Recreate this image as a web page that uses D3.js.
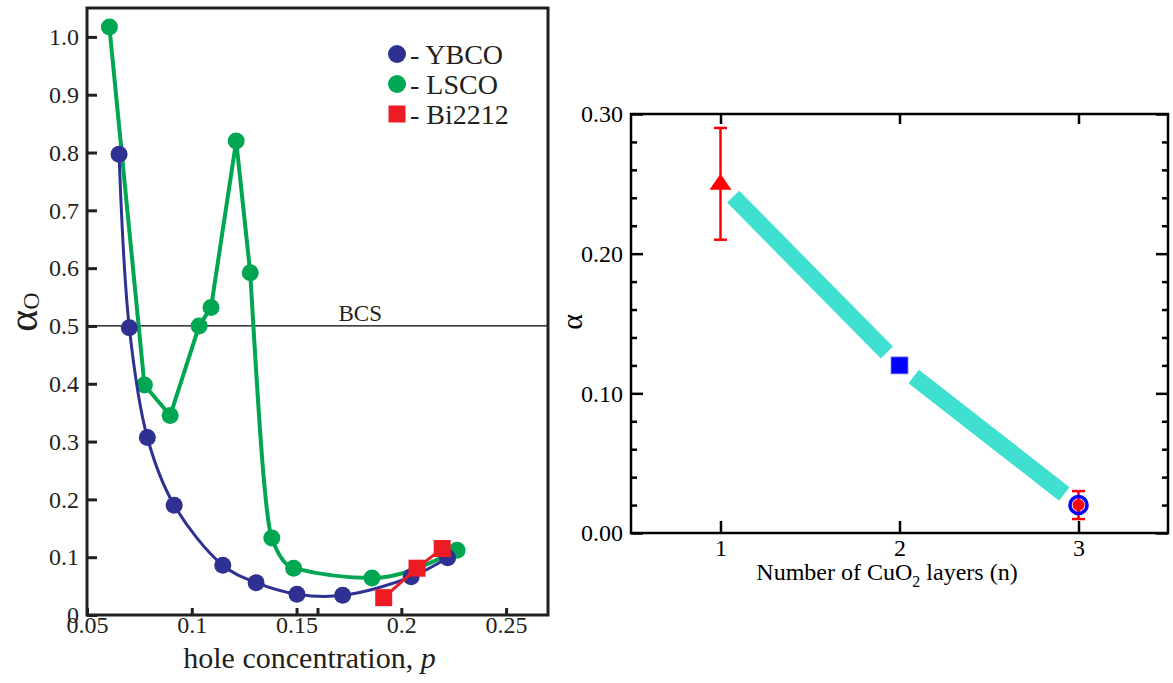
<!DOCTYPE html>
<html>
<head>
<meta charset="utf-8">
<script src="https://cdn.jsdelivr.net/npm/d3@7"></script>
<style>
  html, body { margin: 0; padding: 0; background: #fff; }
  svg { display: block; }
  svg text { font-family: "Liberation Serif", "Times New Roman", serif; }
</style>
</head>
<body>
<svg id="chart" width="1173" height="683"></svg>
<script>
// ---- Left panel: isotope exponent vs hole concentration ----
const ybcoP     = [0.0653, 0.0702, 0.0788, 0.0916, 0.1148, 0.1307, 0.1502, 0.1720, 0.2047, 0.2221];
const ybcoAlpha = [0.797, 0.497, 0.307, 0.190, 0.086, 0.056, 0.036, 0.034, 0.066, 0.099];

const lscoP     = [0.0607, 0.0774, 0.0897, 0.1035, 0.1092, 0.1212, 0.1279, 0.1382, 0.1486, 0.1860, 0.2266];
const lscoAlpha = [1.017, 0.398, 0.345, 0.500, 0.532, 0.820, 0.592, 0.133, 0.081, 0.064, 0.112];

const biP       = [0.1916, 0.2075, 0.2195];
const biAlpha   = [0.030, 0.081, 0.115];

const bcsLevel  = 0.5;

const leftXTicks = [0.05, 0.1, 0.15, 0.16, 0.2, 0.25];
const leftXTickLabels = ["0.05", "0.1", "0.15", "", "0.2", "0.25"];
const leftYTicks = [0, 0.1, 0.2, 0.3, 0.4, 0.5, 0.6, 0.7, 0.8, 0.9, 1.0];
const leftYTickLabels = ["0", "0.1", "0.2", "0.3", "0.4", "0.5", "0.6", "0.7", "0.8", "0.9", "1.0"];

const legendNames = ["YBCO", "LSCO", "Bi2212"];

// ---- Right panel: exponent vs number of CuO2 layers ----
const layersN      = [1, 2, 3];
const layersAlpha  = [0.25, 0.12, 0.02];
const layersErrLo  = [0.21, null, 0.01];
const layersErrHi  = [0.29, null, 0.03];

const rightYMajor  = [0, 0.1, 0.2, 0.3];
const rightYMinor  = [0.02, 0.04, 0.06, 0.08, 0.12, 0.14, 0.16, 0.18, 0.22, 0.24, 0.26, 0.28];
const rightXTicks  = [1, 2, 3];

const BLUE = "#2e3192", GREEN = "#00a651", RED = "#ed1c24";
const INK = "#231f20";
const SERIF = '"Liberation Serif", "Times New Roman", serif';

const svg = d3.select("#chart");

// ================= LEFT PANEL =================
const L = { x0: 87, x1: 548, y0: 8, y1: 615 };
const xL = d3.scaleLinear().domain([0.05, 0.27]).range([L.x0, L.x1]);
const yL = d3.scaleLinear().domain([0, 1.05]).range([L.y1, L.y0]);

const left = svg.append("g");

// BCS reference line
left.append("line")
  .attr("x1", L.x0).attr("x2", L.x1)
  .attr("y1", yL(bcsLevel)).attr("y2", yL(bcsLevel))
  .attr("stroke", "#000").attr("stroke-width", 1.2);
left.append("text")
  .attr("x", xL(0.1804)).attr("y", yL(bcsLevel) - 5)
  .attr("text-anchor", "middle").attr("font-size", 23).attr("fill", INK)
  .text("BCS");

const styleLeftAxis = g => {
  g.select(".domain").remove();
  g.selectAll("line").attr("stroke", INK).attr("stroke-width", 3);
  g.selectAll("text").style("font-family", SERIF).style("font-size", "24px").attr("fill", INK);
};

// axes (ticks point inward)
left.append("g").attr("transform", `translate(${L.x0},0)`)
  .call(d3.axisLeft(yL).tickValues(leftYTicks)
    .tickFormat((d, i) => leftYTickLabels[i]).tickSize(-10).tickPadding(8))
  .call(styleLeftAxis);

left.append("g").attr("transform", `translate(0,${L.y1})`)
  .call(d3.axisBottom(xL).tickValues(leftXTicks)
    .tickFormat((d, i) => leftXTickLabels[i]).tickSize(-7).tickPadding(1))
  .call(styleLeftAxis);

// frame
left.append("rect")
  .attr("x", L.x0).attr("y", L.y0)
  .attr("width", L.x1 - L.x0).attr("height", L.y1 - L.y0)
  .attr("fill", "none").attr("stroke", INK).attr("stroke-width", 3);

// LSCO: straight segments through the underdoped region, smooth curve beyond
const lsco = lscoP.map((p, i) => [p, lscoAlpha[i]]);
const lineLin = d3.line().x(d => xL(d[0])).y(d => yL(d[1]));
const lineSmooth = d3.line().x(d => xL(d[0])).y(d => yL(d[1])).curve(d3.curveMonotoneX);
left.append("path").attr("d", lineLin(lsco.slice(0, 7)))
  .attr("fill", "none").attr("stroke", GREEN).attr("stroke-width", 4).attr("stroke-linejoin", "round");
left.append("path").attr("d", lineSmooth(lsco.slice(6)))
  .attr("fill", "none").attr("stroke", GREEN).attr("stroke-width", 4);
left.append("g").selectAll("circle").data(lsco).join("circle")
  .attr("cx", d => xL(d[0])).attr("cy", d => yL(d[1])).attr("r", 8.5).attr("fill", GREEN);

// YBCO smooth curve
const ybco = ybcoP.map((p, i) => [p, ybcoAlpha[i]]);
left.append("path").attr("d", d3.line().x(d => xL(d[0])).y(d => yL(d[1])).curve(d3.curveCatmullRom.alpha(0.5))(ybco))
  .attr("fill", "none").attr("stroke", BLUE).attr("stroke-width", 3);
left.append("g").selectAll("circle").data(ybco).join("circle")
  .attr("cx", d => xL(d[0])).attr("cy", d => yL(d[1])).attr("r", 8.5).attr("fill", BLUE);

// Bi2212
const bi = biP.map((p, i) => [p, biAlpha[i]]);
left.append("path").attr("d", lineLin(bi))
  .attr("fill", "none").attr("stroke", RED).attr("stroke-width", 3);
left.append("g").selectAll("rect").data(bi).join("rect")
  .attr("x", d => xL(d[0]) - 8.5).attr("y", d => yL(d[1]) - 8.5)
  .attr("width", 17).attr("height", 17).attr("fill", RED);

// legend
const legend = left.append("g").attr("transform", "translate(397,54)");
const legColors = [BLUE, GREEN, RED];
legendNames.forEach((name, i) => {
  const gy = i * 30;
  if (i < 2) {
    legend.append("circle").attr("cx", 0).attr("cy", gy).attr("r", 9).attr("fill", legColors[i]);
  } else {
    legend.append("rect").attr("x", -8.5).attr("y", gy - 8.5).attr("width", 17).attr("height", 17).attr("fill", legColors[i]);
  }
  legend.append("text").attr("x", 13).attr("y", gy + 10)
    .attr("font-size", 28).attr("fill", INK).text("- " + name);
});

// axis titles
left.append("text")
  .attr("x", (L.x0 + L.x1) / 2 - 8).attr("y", 668)
  .attr("text-anchor", "middle").attr("font-size", 30).attr("fill", INK)
  .call(t => {
    t.append("tspan").text("hole concentration, ");
    t.append("tspan").attr("font-style", "italic").text("p");
  });
left.append("text")
  .attr("transform", "translate(37,312) rotate(-90)")
  .attr("text-anchor", "middle").attr("fill", INK)
  .call(t => {
    t.append("tspan").attr("font-size", 42).text("α");
    t.append("tspan").attr("font-size", 24).attr("dy", 2).text("O");
  });

// ================= RIGHT PANEL =================
const R = { x0: 631, x1: 1168, y0: 114, y1: 533 };
const xR = d3.scaleLinear().domain([0.5, 3.5]).range([R.x0, R.x1]);
const yR = d3.scaleLinear().domain([0, 0.3]).range([R.y1, R.y0]);

const right = svg.append("g");

const styleAxis = g => {
  g.select(".domain").remove();
  g.selectAll("line").attr("stroke", "#000").attr("stroke-width", 2.5);
  g.selectAll("text").style("font-family", SERIF).style("font-size", "24px").attr("fill", "#000");
};

right.append("g").attr("transform", `translate(${R.x0},0)`)
  .call(d3.axisLeft(yR).tickValues(rightYMajor).tickFormat(d3.format(".2f")).tickSize(-12).tickPadding(8))
  .call(styleAxis);
right.append("g").attr("transform", `translate(${R.x0},0)`)
  .call(d3.axisLeft(yR).tickValues(rightYMinor).tickFormat("").tickSize(-6))
  .call(styleAxis);
right.append("g").attr("transform", `translate(${R.x1},0)`)
  .call(d3.axisRight(yR).tickValues(rightYMajor).tickFormat("").tickSize(-12))
  .call(styleAxis);
right.append("g").attr("transform", `translate(${R.x1},0)`)
  .call(d3.axisRight(yR).tickValues(rightYMinor).tickFormat("").tickSize(-6))
  .call(styleAxis);
right.append("g").attr("transform", `translate(0,${R.y1})`)
  .call(d3.axisBottom(xR).tickValues(rightXTicks).tickFormat(d3.format("d")).tickSize(-12).tickPadding(6))
  .call(styleAxis);
right.append("g").attr("transform", `translate(0,${R.y0})`)
  .call(d3.axisTop(xR).tickValues(rightXTicks).tickFormat("").tickSize(-10))
  .call(styleAxis);

right.append("rect")
  .attr("x", R.x0).attr("y", R.y0)
  .attr("width", R.x1 - R.x0).attr("height", R.y1 - R.y0)
  .attr("fill", "none").attr("stroke", "#000").attr("stroke-width", 2.5);

// thick trend band between neighbouring points, trimmed short of the markers
const pts = layersN.map((n, i) => [xR(n), yR(layersAlpha[i])]);
const trim = 18;
for (let i = 0; i < pts.length - 1; i++) {
  const [ax, ay] = pts[i], [bx, by] = pts[i + 1];
  const len = Math.hypot(bx - ax, by - ay);
  const ux = (bx - ax) / len, uy = (by - ay) / len;
  right.append("line")
    .attr("x1", ax + ux * trim).attr("y1", ay + uy * trim)
    .attr("x2", bx - ux * trim).attr("y2", by - uy * trim)
    .attr("stroke", "#40e0d0").attr("stroke-width", 17).attr("stroke-linecap", "butt");
}

// error bars
layersN.forEach((n, i) => {
  if (layersErrLo[i] == null) return;
  const cx = xR(n);
  right.append("line").attr("x1", cx).attr("x2", cx)
    .attr("y1", yR(layersErrLo[i])).attr("y2", yR(layersErrHi[i]))
    .attr("stroke", "#ff0000").attr("stroke-width", 2.5);
  [layersErrLo[i], layersErrHi[i]].forEach(v => {
    right.append("line").attr("x1", cx - 6.5).attr("x2", cx + 6.5)
      .attr("y1", yR(v)).attr("y2", yR(v))
      .attr("stroke", "#ff0000").attr("stroke-width", 2.5);
  });
});

// n = 1: red triangle
{
  const cx = xR(layersN[0]), cy = yR(layersAlpha[0]);
  right.append("path")
    .attr("d", `M${cx},${cy - 10}L${cx + 11},${cy + 6}L${cx - 11},${cy + 6}Z`)
    .attr("fill", "#ff0000");
}
// n = 2: blue square
{
  const cx = xR(layersN[1]), cy = yR(layersAlpha[1]);
  right.append("rect").attr("x", cx - 8.5).attr("y", cy - 8.5)
    .attr("width", 17).attr("height", 17).attr("fill", "#0000ff")
    .attr("stroke", "#8080ff").attr("stroke-width", 0.8);
}
// n = 3: blue ring with red dot
{
  const cx = xR(layersN[2]), cy = yR(layersAlpha[2]);
  right.append("circle").attr("cx", cx).attr("cy", cy).attr("r", 8.5)
    .attr("fill", "none").attr("stroke", "#0000ff").attr("stroke-width", 3.5);
  right.append("circle").attr("cx", cx).attr("cy", cy).attr("r", 6).attr("fill", "#ff0000");
}

// titles
right.append("text")
  .attr("x", 887).attr("y", 580)
  .attr("text-anchor", "middle").attr("font-size", 24).attr("fill", "#000")
  .call(t => {
    t.append("tspan").text("Number of CuO");
    t.append("tspan").attr("font-size", 16).attr("dy", 7).text("2");
    t.append("tspan").attr("dy", -7).text(" layers (n)");
  });
right.append("text")
  .attr("transform", "translate(582,322) rotate(-90)")
  .attr("text-anchor", "middle").attr("font-size", 30).attr("fill", "#000")
  .text("α");
</script>
</body>
</html>
